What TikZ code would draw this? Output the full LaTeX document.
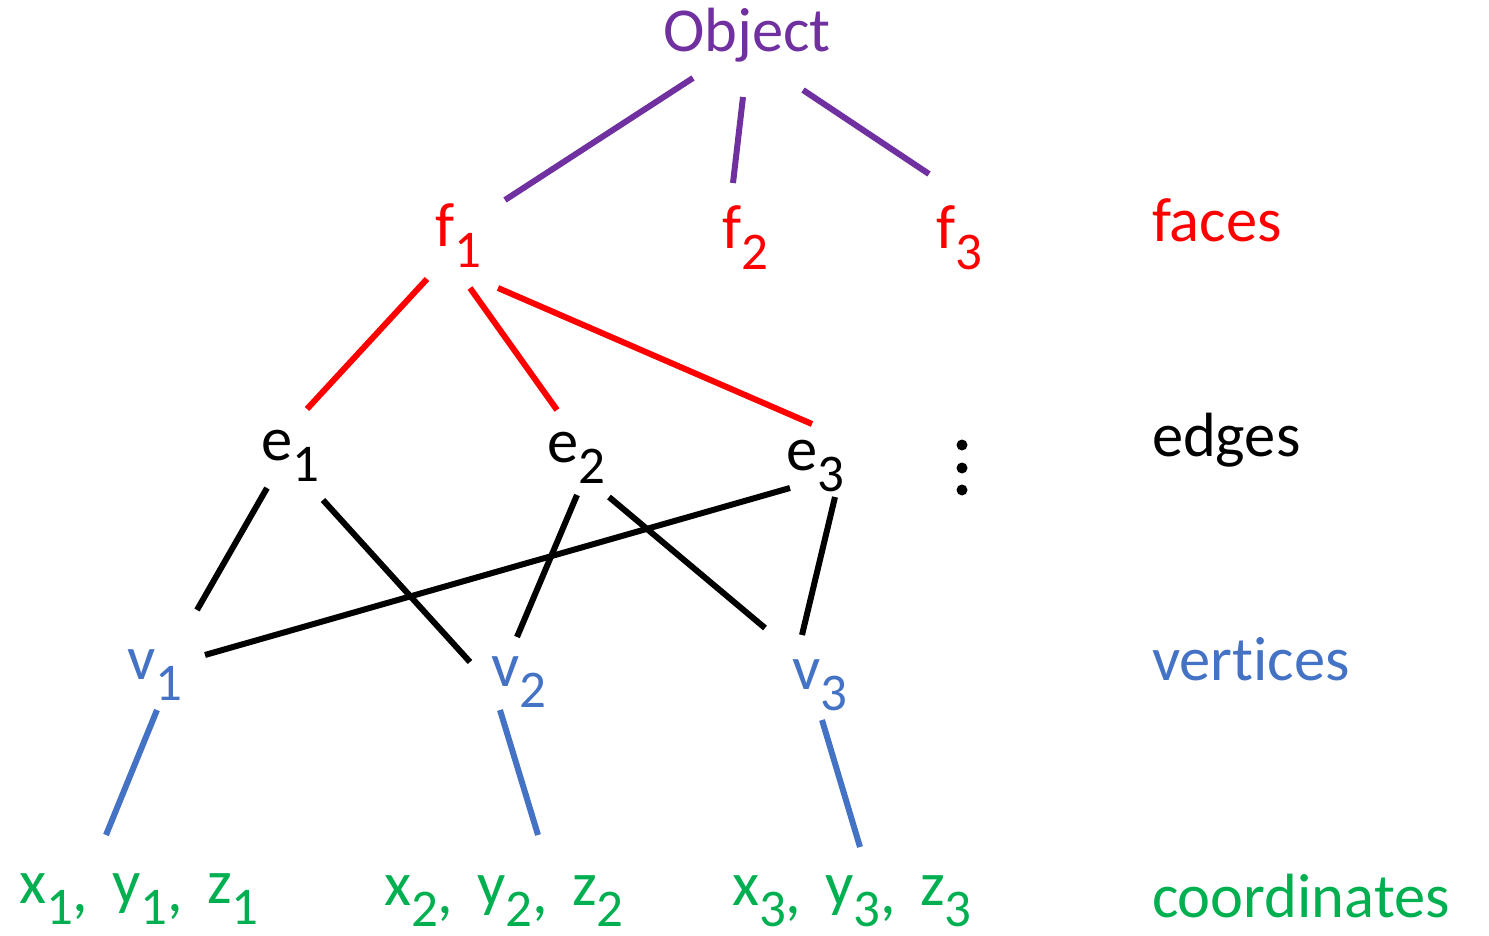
\documentclass[tikz,border=0pt]{standalone}
\usepackage{fontspec}
\setmainfont{Carlito}[Ligatures={NoCommon,NoRare,NoDiscretionary}]
\definecolor{cpurple}{HTML}{7030A0}
\definecolor{cred}{HTML}{FF0000}
\definecolor{cblue}{HTML}{4472C4}
\definecolor{cgreen}{HTML}{00B050}
\newcommand{\sbx}[1]{\raisebox{-10.5pt}{\fontsize{26.5pt}{26.5pt}\selectfont #1}}
\newcommand{\lowc}{\raisebox{-4pt}{,}}
\newcommand{\csp}{\hspace{12pt}}
\tikzset{
  lbl/.style={anchor=base west, inner sep=0pt, outer sep=0pt, font=\fontsize{31.25pt}{31.25pt}\selectfont},
  conn/.style={line width=3pt, line cap=butt},
}
\begin{document}
\begin{tikzpicture}[x=0.5pt, y=-0.5pt]
\useasboundingbox (0,0) rectangle (1489,936);
% texts
\node[lbl, text=cpurple] (Obj) at (663,52) {Object};
\node[lbl, text=cred] (f1) at (435,247) {f\sbx{1}};
\node[lbl, text=cred] (f2) at (722,249) {f\sbx{2}};
\node[lbl, text=cred] (f3) at (936,249) {f\sbx{3}};
\node[lbl] (e1) at (261,460) {e\sbx{1}};
\node[lbl] (e2) at (547,462) {e\sbx{2}};
\node[lbl] (e3) at (786,470) {e\sbx{3}};
\node[lbl, text=cblue] (v1) at (127,679) {v\sbx{1}};
\node[lbl, text=cblue] (v2) at (491,686) {v\sbx{2}};
\node[lbl, text=cblue] (v3) at (792,689) {v\sbx{3}};
\node[lbl, text=cgreen] (c1) at (19,903) {x\sbx{1}\lowc\csp y\sbx{1}\lowc\csp z\sbx{1}};
\node[lbl, text=cgreen] (c2) at (384,905) {x\sbx{2}\lowc\csp y\sbx{2}\lowc\csp z\sbx{2}};
\node[lbl, text=cgreen] (c3) at (732,905) {x\sbx{3}\lowc\csp y\sbx{3}\lowc\csp z\sbx{3}};
\node[lbl, text=cred] (faces) at (1152,242) {faces};
\node[lbl] (edges) at (1152,456) {edges};
\node[lbl, text=cblue] (verts) at (1152,680) {vertices};
\node[lbl, text=cgreen] (coords) at (1152,917) {coordinates};
% vertical dots
\fill (962,445) circle (5.5);
\fill (962,468) circle (5.5);
\fill (962,490) circle (5.5);
% connectors
\draw[conn, cpurple] ([shift={(30,26)}]Obj.base west) -- ([shift={(70,-47)}]f1.base west);
\draw[conn, cpurple] ([shift={(80,45)}]Obj.base west) -- ([shift={(11,-66)}]f2.base west);
\draw[conn, cpurple] ([shift={(140,38)}]Obj.base west) -- ([shift={(-7,-75)}]f3.base west);
\draw[conn, cred] ([shift={(-8,32)}]f1.base west) -- ([shift={(46,-51)}]e1.base west);
\draw[conn, cred] ([shift={(35,41)}]f1.base west) -- ([shift={(10,-52)}]e2.base west);
\draw[conn, cred] ([shift={(63,41)}]f1.base west) -- ([shift={(26,-46)}]e3.base west);
\draw[conn] ([shift={(6,28)}]e1.base west) -- ([shift={(70,-69)}]v1.base west);
\draw[conn] ([shift={(62,40)}]e1.base west) -- ([shift={(-21,-24)}]v2.base west);
\draw[conn] ([shift={(30,33)}]e2.base west) -- ([shift={(26,-49)}]v2.base west);
\draw[conn] ([shift={(62,35)}]e2.base west) -- ([shift={(-27,-61)}]v3.base west);
\draw[conn] ([shift={(4,18)}]e3.base west) -- ([shift={(78,-24)}]v1.base west);
\draw[conn] ([shift={(49,27)}]e3.base west) -- ([shift={(10,-54)}]v3.base west);
\draw[conn, cblue] ([shift={(30,31)}]v1.base west) -- ([shift={(87,-68)}]c1.base west);
\draw[conn, cblue] ([shift={(9,24)}]v2.base west) -- ([shift={(154,-70)}]c2.base west);
\draw[conn, cblue] ([shift={(30,31)}]v3.base west) -- ([shift={(128,-58)}]c3.base west);
\end{tikzpicture}
\end{document}
